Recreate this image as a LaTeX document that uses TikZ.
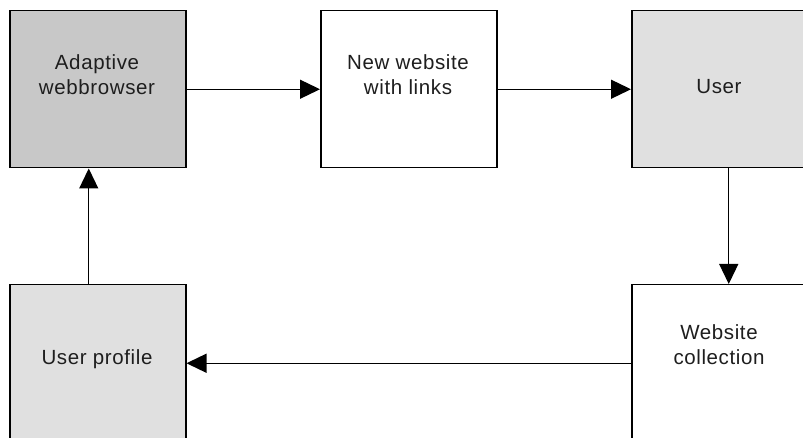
\documentclass[tikz,border=0pt]{standalone}
\usepackage{fontspec}
\setmainfont{Liberation Sans}[LetterSpace=3]
\usetikzlibrary{arrows.meta,calc}
\definecolor{darkbox}{RGB}{200,200,200}
\definecolor{lightbox}{RGB}{224,224,224}
\definecolor{inktext}{RGB}{30,30,30}
\tikzset{
  box/.style={draw=black, line width=1.5pt, minimum width=176pt, minimum height=157pt,
    inner sep=0pt, anchor=north west},
  boxtext/.style={text=inktext, font=\fontsize{20.5}{25}\selectfont, align=center, inner sep=0pt},
  arr/.style={line width=1.3pt, -{Triangle[length=20pt,width=19pt]}},
}
\begin{document}
\begin{tikzpicture}[x=1pt,y=-1pt]
\useasboundingbox (0,0) rectangle (803,438);
\clip (0,0) rectangle (803,438);
% boxes
\node[box, fill=darkbox] (adapt) at (9,10) {};
\node[box, fill=white] (site) at (320,10) {};
\node[box, fill=lightbox] (user) at (631,10) {};
\node[box, fill=lightbox] (profile) at (9,284) {};
\node[box, fill=white] (coll) at (631,284) {};
% labels
\node[boxtext] (adaptT) at (97,75) {Adaptive\\webbrowser};
\node[boxtext] (siteT) at (408,75) {New website\\with links};
\node[boxtext] (userT) at (719,87) {User};
\node[boxtext] (profileT) at (97,359) {User profile};
\node[boxtext] (collT) at (719,345) {Website\\collection};
% connectors
\draw[arr] (adapt.east) -- (site.west);
\draw[arr] (site.east) -- (user.west);
\draw[arr] ($(user.south)+(9,0)$) -- ($(coll.north)+(9,0)$);
\draw[arr] (coll.west) -- (profile.east);
\draw[arr] ($(profile.north)+(-9,0)$) -- ($(adapt.south)+(-9,0)$);
\end{tikzpicture}
\end{document}
